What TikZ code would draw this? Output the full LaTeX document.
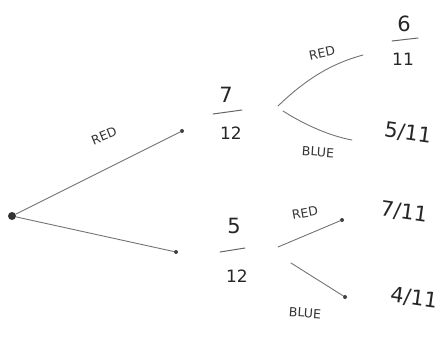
\documentclass[tikz,border=0pt]{standalone}
\usepackage{fontspec}
\setmainfont{DejaVu Sans}
\begin{document}
\begin{tikzpicture}[x=1pt,y=-1pt,
  pen/.style={draw=black!55,line width=0.9pt,line cap=round},
  bar/.style={draw=black!60,line width=1pt,line cap=round},
  dot/.style={circle,fill=black!75,inner sep=0pt,minimum size=4pt},
  bigdot/.style={circle,fill=black!80,inner sep=0pt,minimum size=8pt},
  lab/.style={font=\fontsize{12.5}{14}\selectfont,text=black!80,inner sep=1pt},
  num/.style={font=\fontsize{17}{19}\selectfont,text=black!85,inner sep=1pt},
  bignum/.style={font=\fontsize{21}{23}\selectfont,text=black!85,inner sep=1pt}]
\useasboundingbox (0,0) rectangle (444,338);
% first level
\node[bigdot] (root) at (12,216) {};
\node[dot] (up) at (182,131) {};
\node[dot] (low) at (176,252) {};
\draw[pen] (root) -- (up);
\draw[pen] (root) -- (low);
\node[lab,rotate=22] (lred) at (104,136) {RED};
% 7/12
\node[bignum] (n7) at (226,95) {7};
\coordinate (b7a) at (213,114);
\coordinate (b7b) at (242,110);
\draw[bar] (b7a) -- (b7b);
\node[num] (d12a) at (231,133) {12};
% upper branches
\coordinate (ua) at (278,106);
\coordinate (ub) at (363,55);
\coordinate (uc) at (283,111);
\coordinate (ud) at (352,140);
\draw[pen] (ua) .. controls (305,80) and (330,64) .. (ub);
\draw[pen] (uc) .. controls (305,125) and (330,136) .. (ud);
\node[lab,rotate=12] (ured) at (322,53) {RED};
\node[lab,rotate=-4] (ublue) at (318,152) {BLUE};
% 6/11
\node[bignum] (n6) at (404,24) {6};
\coordinate (b6a) at (392,41);
\coordinate (b6b) at (418,38);
\draw[bar] (b6a) -- (b6b);
\node[num] (d11a) at (403,59) {11};
\node[bignum,rotate=-8] (f511) at (408,133) {5/11};
% 5/12
\node[bignum] (n5) at (234,226) {5};
\coordinate (b5a) at (220,252);
\coordinate (b5b) at (245,248);
\draw[bar] (b5a) -- (b5b);
\node[num] (d12b) at (237,276) {12};
\coordinate (la) at (278,247);
\node[dot] (lr) at (342,220) {};
\coordinate (lc) at (291,263);
\node[dot] (lb) at (345,297) {};
\draw[pen] (la) -- (lr);
\draw[pen] (lc) -- (lb);
\node[lab,rotate=10] (lred2) at (305,213) {RED};
\node[lab,rotate=-4] (lblue) at (305,313) {BLUE};
\node[bignum,rotate=-8] (f711) at (404,212) {7/11};
\node[bignum,rotate=-8] (f411) at (414,298) {4/11};
\end{tikzpicture}
\end{document}
